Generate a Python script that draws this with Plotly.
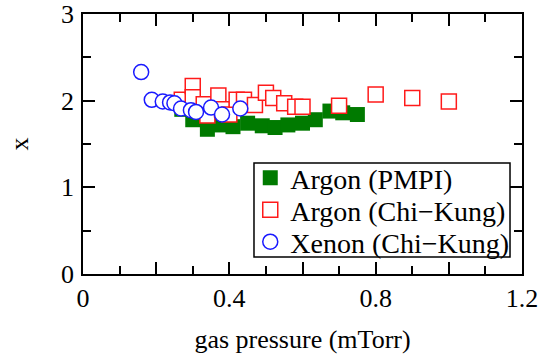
import plotly.graph_objects as go

# Argon (PMPI)
pmpi_x = [0.27, 0.30, 0.34, 0.375, 0.41, 0.45, 0.49, 0.525, 0.56, 0.60, 0.635, 0.675, 0.71, 0.75]
pmpi_y = [1.90, 1.78, 1.67, 1.72, 1.70, 1.74, 1.71, 1.69, 1.72, 1.74, 1.78, 1.88, 1.86, 1.84]

# Argon (Chi-Kung)
ck_ar_x = [0.27, 0.30, 0.30, 0.33, 0.34, 0.37, 0.38, 0.40, 0.42, 0.44, 0.47, 0.50, 0.52, 0.55, 0.58, 0.60, 0.70, 0.80, 0.90, 1.00]
ck_ar_y = [2.01, 2.17, 2.04, 1.96, 1.83, 2.06, 1.90, 1.84, 2.01, 2.01, 1.95, 2.09, 2.03, 1.97, 1.93, 1.93, 1.94, 2.07, 2.03, 1.99]

# Xenon (Chi-Kung)
ck_xe_x = [0.159, 0.188, 0.218, 0.238, 0.250, 0.268, 0.295, 0.309, 0.350, 0.380, 0.430]
ck_xe_y = [2.33, 2.01, 1.99, 1.98, 1.97, 1.91, 1.89, 1.87, 1.92, 1.84, 1.91]

x_tickvals = [0, 0.2, 0.4, 0.6, 0.8, 1.0, 1.2]
x_ticktext = ["0", "", "0.4", "", "0.8", "", "1.2"]
x_minor = [0.1, 0.3, 0.5, 0.7, 0.9, 1.1]
y_tickvals = [0, 1, 2, 3]
y_minor = [0.5, 1.5, 2.5]

FONT = "Liberation Serif, Times New Roman, serif"

fig = go.Figure()
fig.add_trace(go.Scatter(
    x=pmpi_x, y=pmpi_y, mode="markers", name="Argon (PMPI)", legend="legend",
    marker=dict(symbol="square", size=15, color="#007a00", line=dict(width=0)),
))
fig.add_trace(go.Scatter(
    x=ck_ar_x, y=ck_ar_y, mode="markers", name="Argon (Chi\u2212Kung)", legend="legend2",
    marker=dict(symbol="square", size=15, color="white", line=dict(width=1.5, color="#ff1a1a")),
))
fig.add_trace(go.Scatter(
    x=ck_xe_x, y=ck_xe_y, mode="markers", name="Xenon (Chi\u2212Kung)", legend="legend3",
    marker=dict(symbol="circle", size=15, color="white", line=dict(width=1.5, color="#1a1aff")),
))

axis_common = dict(
    showline=True, linecolor="black", linewidth=1.5, mirror="ticks",
    ticks="inside", ticklen=12, tickwidth=1.5, tickcolor="black",
    showgrid=False, zeroline=False, automargin=False,
    ticklabeloverflow="allow",
    tickfont=dict(family=FONT, size=26, color="black"),
)

fig.update_xaxes(
    range=[0, 1.2], tickmode="array", tickvals=x_tickvals, ticktext=x_ticktext,
    minor=dict(tickmode="array", tickvals=x_minor, ticks="inside", ticklen=8, tickwidth=1.5, tickcolor="black", showgrid=False),
    title=dict(text="gas pressure (mTorr)", font=dict(family=FONT, size=26, color="black"), standoff=18),
    **axis_common,
)
fig.update_yaxes(
    range=[0, 3], tickmode="array", tickvals=y_tickvals, ticktext=[str(v) for v in y_tickvals],
    minor=dict(tickmode="array", tickvals=y_minor, ticks="inside", ticklen=8, tickwidth=1.5, tickcolor="black", showgrid=False),
    title=dict(text="x", font=dict(family=FONT, size=26, color="black"), standoff=25),
    ticklabelstandoff=2,
    **axis_common,
)

# legend frame (paper coordinates)
box_x0, box_x1 = 0.3895, 0.9727
box_y0, box_y1 = 0.0654, 0.4269
fig.add_shape(type="rect", xref="paper", yref="paper", x0=box_x0, x1=box_x1, y0=box_y0, y1=box_y1,
              line=dict(color="black", width=1.5), fillcolor="white", layer="above")

leg_common = dict(
    x=0.381, xanchor="left", yanchor="middle",
    bgcolor="rgba(0,0,0,0)", borderwidth=0,
    font=dict(family=FONT, size=28, color="black"),
    itemsizing="trace",
)

fig.update_layout(
    width=552, height=358,
    margin=dict(l=83, r=30, t=14, b=84),
    paper_bgcolor="white", plot_bgcolor="white",
    font=dict(family=FONT, size=26, color="black"),
    showlegend=True,
    legend=dict(y=0.3692, **leg_common),
    legend2=dict(y=0.2462, **leg_common),
    legend3=dict(y=0.1231, **leg_common),
)

fig.write_html("out.html", config={"displayModeBar": False},
               post_script="document.body.style.margin='0';")
